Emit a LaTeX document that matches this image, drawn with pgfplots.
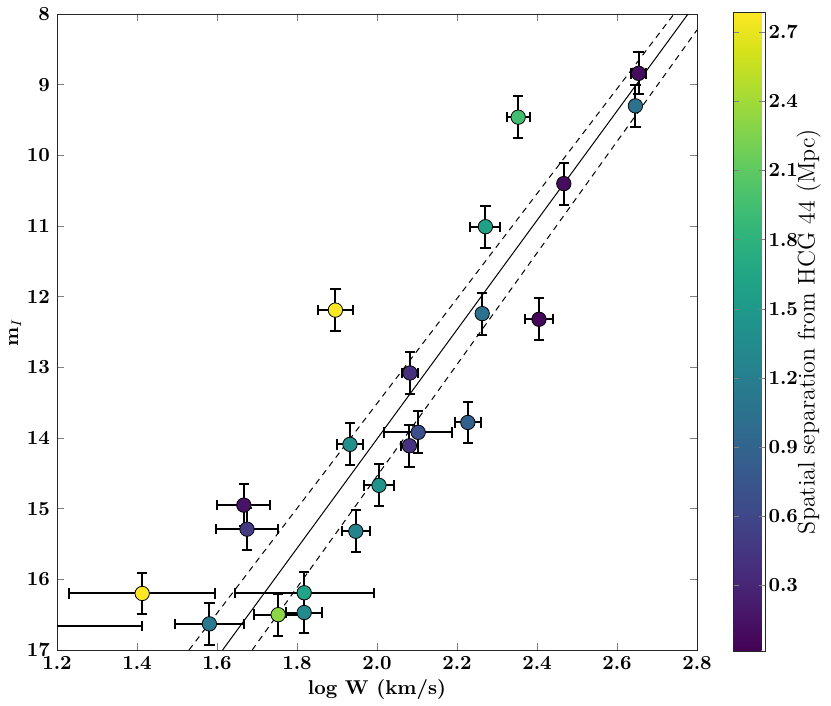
\documentclass[border=0pt]{standalone}
\usepackage{pgfplots}
\pgfplotsset{compat=1.18}
\usepackage{pgfplotstable}
\usetikzlibrary{arrows.meta}

\pgfplotstableread{
x      y      ex     ey    c
2.654  8.84   0.022  0.31  0.10
2.646  9.30   0.010  0.31  1.05
2.353  9.46   0.031  0.31  1.95
2.467  10.40  0.010  0.31  0.10
2.271  11.01  0.040  0.31  1.60
2.263  12.24  0.010  0.31  1.05
2.405  12.32  0.038  0.31  0.05
1.896  12.19  0.047  0.31  2.78
2.0825 13.08  0.023  0.31  0.40
2.227  13.78  0.035  0.31  0.85
2.103  13.92  0.088  0.31  0.68
2.081  14.11  0.024  0.31  0.42
1.9325 14.09  0.035  0.31  1.40
2.005  14.67  0.041  0.31  1.45
1.947  15.32  0.037  0.31  1.25
1.667  14.95  0.069  0.31  0.15
1.675  15.29  0.080  0.31  0.48
1.413  16.20  0.185  0.31  2.78
1.581  16.63  0.088  0.31  1.15
1.050  16.66  0.366  0.31  1.00
1.818  16.19  0.176  0.31  1.62
1.753  16.50  0.064  0.31  2.32
1.818  16.47  0.047  0.31  1.32
}\datatable

\begin{document}
\begin{tikzpicture}
\useasboundingbox (-28.5pt,-28pt) rectangle (387pt,325pt);
\begin{axis}[
  at={(0pt,0pt)}, anchor=south west,
  scale only axis, width=320pt, height=318pt,
  xmin=1.2, xmax=2.8, ymin=8, ymax=17,
  y dir=reverse,
  axis line style={black!85},
  xtick={1.2,1.4,1.6,1.8,2.0,2.2,2.4,2.6,2.8},
  ytick={8,9,10,11,12,13,14,15,16,17},
  xticklabel style={/pgf/number format/.cd, fixed, fixed zerofill, precision=1},
  tick label style={font=\boldmath},
  tick align=inside, major tick length=3.5pt,
  xlabel={\textbf{log W (km/s)}},
  ylabel={$\mathbf{m}_{I}$},
  xlabel style={yshift=2pt},
  ylabel style={yshift=-4pt},
  colorbar, colormap/viridis,
  point meta min=0.015, point meta max=2.788,
  colorbar style={
    at={(parent axis.north east)}, anchor=north west,
    xshift=9.5pt, yshift=1pt,
    scale only axis, width=16pt, height=319.5pt,
    axis line style={black!85},
    ytick={0.3,0.6,0.9,1.2,1.5,1.8,2.1,2.4,2.7},
    yticklabel style={font=\boldmath, xshift=-1.8pt, /pgf/number format/.cd, fixed, fixed zerofill, precision=1},
    tick align=inside, major tick length=3pt,
    ylabel={Spatial separation from HCG 44 (Mpc)},
    ylabel style={font=\large, at={(axis description cs:2.36,0.5)}, anchor=center},
  },
]
\addplot[black, line width=0.5pt] coordinates {(1.614,17) (2.7775,8)};
\addplot[black, line width=0.5pt, dash pattern=on 3pt off 2.5pt] coordinates {(1.53,17) (2.7425,8)};
\addplot[black, line width=0.5pt, dash pattern=on 3pt off 2.5pt] coordinates {(1.688,17) (2.8,8.226)};
\addplot[
  only marks, mark=none,
  error bars/.cd,
    x dir=both, x explicit, y dir=both, y explicit,
    error mark=none,
    error bar style={line width=1pt, draw=black, solid,
      {Bar[width=5.2pt,line width=1pt]}-{Bar[width=5.2pt,line width=1pt]}},
] table[x=x, y=y, x error=ex, y error=ey] {\datatable};
\addplot[
  scatter, only marks, scatter src=explicit,
  mark=*, mark size=3.6pt,
  scatter/use mapped color={draw=black, fill=mapped color},
  mark options={line width=0.4pt},
] table[x=x, y=y, meta=c] {\datatable};
\end{axis}
\end{tikzpicture}
\end{document}
